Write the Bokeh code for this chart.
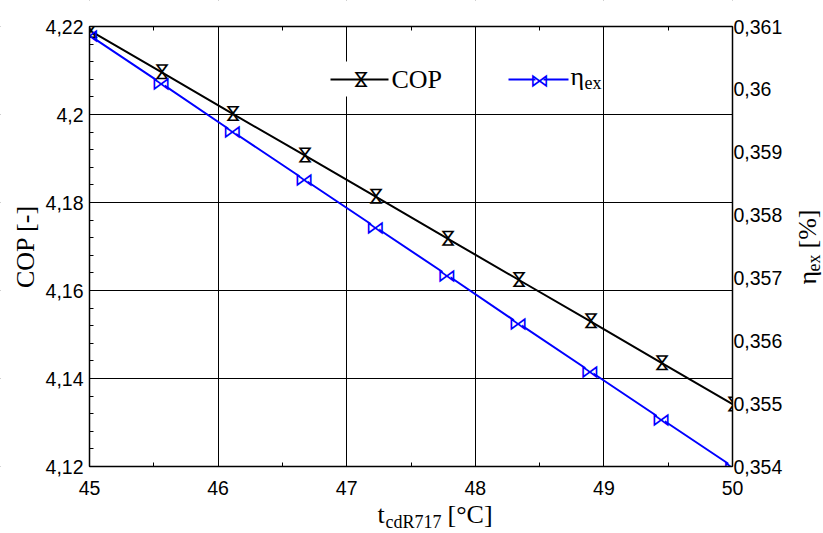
import math
from bokeh.plotting import figure
from bokeh.models import (Range1d, LinearAxis, SingleIntervalTicker, CustomJSTickFormatter,
                          ColumnDataSource, Label, BoxAnnotation)
from bokeh.core.properties import value
from bokeh.embed import file_html
from bokeh.resources import INLINE

# ---------------- data ----------------
t_cd = [45.0, 45.556, 46.111, 46.667, 47.222, 47.778, 48.333, 48.889, 49.444, 50.0]
cop = [4.2191, 4.2097, 4.2002, 4.1908, 4.1814, 4.1719, 4.1625, 4.1531, 4.1436, 4.1342]
eta_ex = [0.36086, 0.36010, 0.35933, 0.35857, 0.35781, 0.35705, 0.35628, 0.35552, 0.35476, 0.35400]

x_lim = (45, 50)
cop_lim = (4.12, 4.22)
eta_lim = (0.354, 0.361)

# ---------------- layout constants ----------------
W, H = 823, 533
FL, FR, FT, FB = 89, 732, 26, 466   # plot-area edges in pixels

BLUE = "#0000ff"
SERIF = "Liberation Serif"
SANS = "Liberation Sans"

# the frame covers the whole canvas; axes are pinned at the plot-area edges
sx = (x_lim[1] - x_lim[0]) / (FR - FL)
sy = (cop_lim[1] - cop_lim[0]) / (FB - FT)
se = (eta_lim[1] - eta_lim[0]) / (FB - FT)
xr = Range1d(x_lim[0] - FL * sx, x_lim[1] + (W - FR) * sx)
yr = Range1d(cop_lim[0] - (H - FB) * sy, cop_lim[1] + FT * sy)
er = Range1d(eta_lim[0] - (H - FB) * se, eta_lim[1] + FT * se)

p = figure(width=W, height=H, x_range=xr, y_range=yr,
           output_backend="svg", toolbar_location=None, min_border=0)
p.title.visible = False
p.extra_y_ranges = {"eta": er}
p.background_fill_color = "white"
p.border_fill_color = "white"
p.outline_line_color = None

fmt = CustomJSTickFormatter(code="return String(parseFloat(tick.toFixed(4))).replace('.', ',');")
blank = CustomJSTickFormatter(code="return '';")

xt = SingleIntervalTicker(interval=1, num_minor_ticks=2)
yt = SingleIntervalTicker(interval=0.02, num_minor_ticks=5)
et = SingleIntervalTicker(interval=0.001, num_minor_ticks=0)

EPS = 1e-6


def style_axis(ax, ticker, formatter, bounds, loc, tick_in=6, minor_in=4, standoff=6):
    ax.ticker = ticker
    ax.formatter = formatter
    ax.bounds = bounds
    ax.fixed_location = loc
    ax.axis_line_color = "black"
    ax.axis_line_width = 1.5
    ax.major_tick_line_color = "black"
    ax.minor_tick_line_color = "black"
    ax.major_tick_in = tick_in
    ax.major_tick_out = 0
    ax.minor_tick_in = minor_in
    ax.minor_tick_out = 0
    ax.major_label_text_font = SANS
    ax.major_label_text_font_size = "19.5px"
    ax.major_label_text_color = "black"
    ax.major_label_standoff = standoff
    ax.axis_label = None


xb = (x_lim[0] - EPS, x_lim[1] + EPS)
yb = (cop_lim[0] - EPS, cop_lim[1] + EPS)
eb = (eta_lim[0] - EPS * 0.1, eta_lim[1] + EPS * 0.1)

style_axis(p.xaxis[0], xt, fmt, xb, cop_lim[0], standoff=14)
style_axis(p.yaxis[0], yt, fmt, yb, x_lim[0], standoff=6)

top = LinearAxis()
style_axis(top, xt, blank, xb, cop_lim[1], standoff=0)
top.major_label_text_font_size = "1px"
p.add_layout(top, "above")

right = LinearAxis(y_range_name="eta")
style_axis(right, et, fmt, eb, x_lim[1], tick_in=0, minor_in=0, standoff=1)
p.add_layout(right, "right")

p.xgrid.ticker = xt
p.ygrid.ticker = yt
for g in (p.xgrid[0], p.ygrid[0]):
    g.grid_line_color = "black"
    g.grid_line_width = 1
    g.grid_line_alpha = 1.0


# helpers to convert pixel layout positions into data positions (legend / masks only)
def dx(px):
    return x_lim[0] + (px - FL) * sx


def dy(py):
    return cop_lim[1] - (py - FT) * sy


LY = 79
# white background of the COP legend item (hides the grid line)
p.add_layout(BoxAnnotation(left=dx(326), right=dx(425), top=dy(LY - 18), bottom=dy(LY + 17),
                           fill_color="white", fill_alpha=1, line_color=None, level="underlay"))

# ---------------- series ----------------
src = ColumnDataSource(dict(x=t_cd, cop=cop, eta=eta_ex, m=["\u22c8"] * len(t_cd)))

p.line("x", "cop", source=src, line_color="black", line_width=2)
p.line("x", "eta", source=src, line_color=BLUE, line_width=2, y_range_name="eta")

p.scatter("x", "eta", source=src, marker="square", size=8, fill_color="white",
          line_color=None, y_range_name="eta")
p.text("x", "cop", text="m", source=src, angle=math.pi / 2, text_align="center",
       text_baseline="middle", text_font=value("DejaVu Sans"), text_font_size="19px",
       text_color="black")
p.text("x", "eta", text="m", source=src, text_align="center", text_baseline="middle",
       text_font=value("DejaVu Sans"), text_font_size="19px", text_color=BLUE,
       y_range_name="eta")

# white masks outside the plot area (clip marks that overflow the plot rectangle)
p.quad(left=[xr.start, dx(FR), xr.start, xr.start],
       right=[dx(FL), xr.end, xr.end, xr.end],
       bottom=[yr.start, yr.start, dy(FT), yr.start],
       top=[yr.end, yr.end, yr.end, dy(FB)],
       fill_color="white", line_color=None)

# ---------------- legend (manual) ----------------
p.line([dx(330), dx(388)], [dy(LY), dy(LY)], line_color="black", line_width=2)
p.text([dx(359)], [dy(LY)], text=value("\u22c8"), angle=math.pi / 2, text_align="center",
       text_baseline="middle", text_font=value("DejaVu Sans"), text_font_size="19px",
       text_color="black")
p.line([dx(508), dx(568)], [dy(LY), dy(LY)], line_color=BLUE, line_width=2)
p.scatter([dx(539)], [dy(LY)], marker="square", size=8, fill_color="white", line_color=None)
p.text([dx(539)], [dy(LY)], text=value("\u22c8"), text_align="center",
       text_baseline="middle", text_font=value("DejaVu Sans"), text_font_size="19px",
       text_color=BLUE)


def lab(text, px, py, size, angle=0.0, align="left"):
    # (px, py) is the wanted baseline start in pixels; Label draws ~0.4em lower/righter
    shift = 0.4 * size
    if angle:
        px -= shift
    else:
        py -= shift
    p.add_layout(Label(x=x_lim[0], y=cop_lim[0], x_offset=px - FL, y_offset=FB - py,
                       text=text, text_font=SERIF, text_font_size=f"{size}px",
                       text_color="black", text_align=align, text_baseline="alphabetic",
                       angle=angle, level="overlay"))


lab("COP", 391, LY + 10, 26)
lab("\u03b7", 570, LY + 7, 26)
lab("ex", 584, LY + 11, 18)

# ---------------- axis titles (manual, with subscripts) ----------------
lab("t", 377, 524, 26)
lab("cdR717", 385, 529, 18)
lab("[\u00b0C]", 447, 524, 26)

lab("COP [-]", 35, 246, 26, angle=math.pi / 2, align="center")

lab("\u03b7", 817, 284, 26, angle=math.pi / 2)
lab("ex", 821, 271, 18, angle=math.pi / 2)
lab("[%]", 817, 248, 26, angle=math.pi / 2)

open("out.html", "w").write(file_html(p, INLINE))
